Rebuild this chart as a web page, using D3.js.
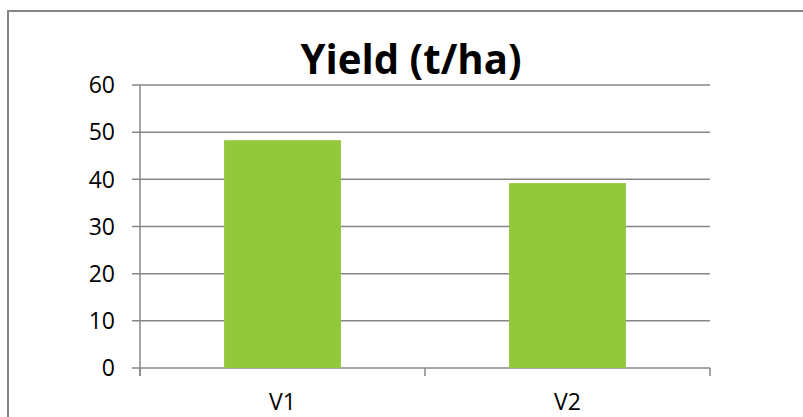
<!DOCTYPE html>
<html>
<head>
<meta charset="utf-8">
<script src="https://cdn.jsdelivr.net/npm/d3@7"></script>
<style>
  body { margin: 0; background: #fff; }
  svg { display: block; font-family: "Open Sans", sans-serif; }
</style>
</head>
<body>
<script>
/* data */
let categories = ["V1", "V2"];
let yieldValues = [48.3, 39.2];
let yTicks = [0, 10, 20, 30, 40, 50, 60];

let W = 803, H = 417;
let margin = { top: 85, right: 93, bottom: 49, left: 140 };
let width = W - margin.left - margin.right,
    height = H - margin.top - margin.bottom;

let svg = d3.select("body").append("svg")
  .attr("width", W)
  .attr("height", H);

/* cadre */
svg.append("rect")
  .attr("x", 8).attr("y", 11)
  .attr("width", 830).attr("height", 440)
  .attr("fill", "none")
  .attr("stroke", "#858585")
  .attr("stroke-width", 2);

let g = svg.append("g")
  .attr("transform", "translate(" + margin.left + "," + margin.top + ")");

let x = d3.scaleBand().domain(categories).range([0, width]).paddingInner(0.59).paddingOuter(0.295);
let xTickScale = d3.scaleLinear().domain([0, categories.length]).range([0, width]);
let y = d3.scaleLinear().domain([0, 60]).range([height, 0]);

/* grid */
g.append("g")
  .selectAll("line")
  .data(yTicks)
  .enter().append("line")
  .attr("x1", -8).attr("x2", width)
  .attr("y1", d => y(d)).attr("y2", d => y(d))
  .attr("stroke", "#868686")
  .attr("stroke-width", 1.5);

/* bars */
g.selectAll(".bar")
  .data(yieldValues)
  .enter().append("rect")
  .attr("class", "bar")
  .attr("x", (d, i) => x(categories[i]))
  .attr("width", x.bandwidth())
  .attr("y", d => y(d))
  .attr("height", d => height - y(d))
  .attr("fill", "#93c83c");

/* axe y */
g.append("line")
  .attr("x1", 0).attr("x2", 0)
  .attr("y1", 0).attr("y2", height + 8)
  .attr("stroke", "#868686").attr("stroke-width", 1.5);

g.append("g")
  .selectAll("text")
  .data(yTicks)
  .enter().append("text")
  .attr("x", -25)
  .attr("y", d => y(d))
  .attr("dy", "0.36em")
  .attr("text-anchor", "end")
  .style("font-size", "23px")
  .attr("fill", "#000")
  .text(d => d);

/* axe x */
g.selectAll(".xtick")
  .data(d3.range(categories.length + 1))
  .enter().append("line")
  .attr("class", "xtick")
  .attr("x1", d => xTickScale(d)).attr("x2", d => xTickScale(d))
  .attr("y1", height).attr("y2", height + 8)
  .attr("stroke", "#868686").attr("stroke-width", 1.5);

g.selectAll(".xlabel")
  .data(categories)
  .enter().append("text")
  .attr("class", "xlabel")
  .attr("x", d => x(d) + x.bandwidth() / 2)
  .attr("y", height + 42)
  .attr("text-anchor", "middle")
  .style("font-size", "23px")
  .text(d => d);

/* titre */
svg.append("text")
  .attr("x", 411)
  .attr("y", 74)
  .attr("text-anchor", "middle")
  .attr("textLength", 221)
  .attr("lengthAdjust", "spacingAndGlyphs")
  .style("font-size", "42px")
  .style("font-weight", "bold")
  .text("Yield (t/ha)");
</script>
</body>
</html>
